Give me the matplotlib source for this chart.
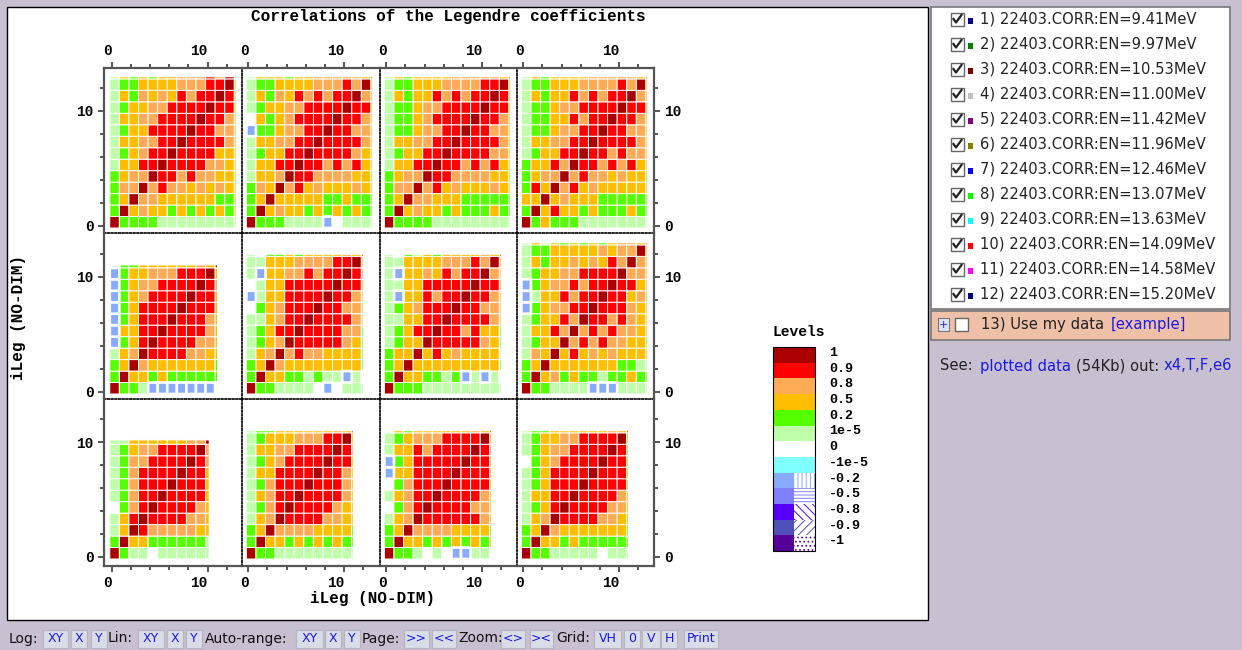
"""Correlations of the Legendre coefficients: 12 level maps plus the page chrome around them."""
import numpy as np
import matplotlib
matplotlib.use('Agg')
import matplotlib.pyplot as plt
from matplotlib.colors import ListedColormap, BoundaryNorm
from matplotlib.patches import Rectangle
from matplotlib.ticker import FixedLocator

W, H = 1242, 650
MONO = 'Liberation Mono'
SANS = 'DejaVu Sans'

# ---- data: level letter per cell, top row first, last row/column is the clipped sliver
P1 = ["LYGYGYYOOORODY", "LGGYYYYOOORRDY", "LYGOYOYRORRDRY", "LGYYOORRRRDRRY", "LYYOORRRRDRROY",
      "LGYYRRRRDRROOY", "LYYOORRDRRRROY", "LGYORRDRRRRYYY", "LYYRRDRRRROOYY", "GYOODRROROOYYG",
      "GOODOROOYOYOYY", "GYDOOYYYYYYGGY", "GDYOYYGYGYGYGY", "DGGGGLLLLLLLLL"]
P2 = ["LYYYGYYOOOOOYD", "LGGYYYYOOORODY", "LYGOYRORORRDOO", "LGYYOORRRRDRRY", "WYGYORRRRDRROY",
      "BGGYOORRDRROOY", "LYYOORRDRRRROY", "LGYYRRDRRRROYY", "LYYRRDRRORORYY", "LYYODRROOOOYYG",
      "GOYDORYOYYYOYY", "GYDYYYYYGGYGGG", "GDYOYYGYGYGYGG", "DGGGLLLLBWLLLL"]
P3 = ["LYGYYYYOOOOOYD", "LGGYYYOOOORRDY", "LYGYYRORORRDRO", "LGGYOORRRRDRRY", "LGGYORRRRDRROY",
      "LGGYOORRDRROOY", "LYYOORRDRRRROY", "LGYYRRDRRRROOY", "LYYRRDRRORORYY", "GYOODRROOOOYYG",
      "GOODORYOYYYOYY", "GYDOOYYYGGGGGG", "GDYOYYGYGGGYGG", "DGGGGLLLLLLLLL"]
P4 = ["LYGYYYYOOOOOYD", "LGGYYYOOOORODY", "LYGYYRORORRDOO", "LGGYOORRRRDRRY", "LGGYYRORRDRROY",
      "LGGYOORRDRROOY", "LYYOORRDRRRROY", "LGYYRRDRROROOY", "GYYRODRRORORYY", "GYOODOROOYOYYG",
      "GRYDORYOYYYYYY", "YYDYOYYYGGGGGG", "GDYRYYGYGGGYGG", "DGYGGGLLLLLLLL"]
P5 = ["BGGYYYYYYOYD", "BGYYOOORRRDY", "BGYOORRRRDRO", "BGYORRRRDRRY", "BGYRRRRDRRRY", "BGYRRRDRRROY",
      "BYYRRDRRRROY", "BGYRDRRRROOY", "LYODRRRROOYY", "GYDOYYYYYYYG", "GDYYGYGGGGGG", "DGGLBBBBBBBB"]
P6 = ["LBGGYGYYYYOYD", "LLYYYOOOORRDY", "LBYYOORORRDRO", "WLYYRRRRRDRRY", "BLYYRRRRDRROY",
      "WGYORRRDRROOY", "LLYORRDRRRROY", "LGYRRDRRRROOG", "LGYODRRRRROYG", "LYODOROOYYYYG",
      "GYDOYYYYYYYYG", "GDYYGGLGLLBLB", "DGGLLLLWBWLLL"]
P7 = ["LBGLYGYYYYOYD", "LLYYYYOOORODY", "LBYYOYRORRDOO", "LLYYRRRRRDRRY", "LBYYRORRDRROY",
      "LGYORRRDRROOY", "LLYYRRDRRRROY", "LGYRRDRRORYYG", "LGYYDRRRRROYG", "GYYDYRYOYYYYL",
      "GYDYYYYYYYYYG", "GDYYGGLGBLBLB", "DGGGLLLLLLLLL"]
P8 = ["LYLYGYGYGYOOYD", "LGGYYYYYOYOODY", "LYGYYOYOYRODOY", "LGYYOORRRRDOOY", "BGYOORORRDRRYY",
      "BLYYRORRDRRYOG", "BGYOORRDRRROYY", "LGYYRODRROROYY", "LYYRODOROROOYY", "LGYYDOROROOYYG",
      "LOYDYRYOYOYYYY", "GYDYYYYYYYGGLL", "GDYOGYGGLGGYGG", "DGGLLLLBBBLLLL"]
P9 = ["LLYYYYYYOOD", "LGYOORRRRDO", "LGOORRRRDRO", "LGORRRRDRRY", "LGORRRDRRRY", "LGORRDRRRRY",
      "WGORDRRRROY", "LYRDRRRROOY", "LYDROOOOOYY", "GDYYGGGGGGL", "DGLLWLLLLLL"]
P10 = ["LGGYYYYYYOYD", "LGYYYOOORRDY", "LYYOORRRRDRO", "LGYORRRRDRRY", "LYYRRRRDRROY", "LGORRRDRRROY",
       "LYORRDRRRROY", "LGORDRRRROYY", "LYODRRRROOYY", "GYDOOOOYYYYG", "GDYYGYGYGYGG", "DGGLLLLLLLLL"]
P11 = ["WYGYYYYYYOYD", "LGYOOORRRRDY", "LYYRORRRRDRO", "BGYRRRRRDRRY", "BYYRRRRDRRRY", "WGORRRDRRRRY",
       "LYORRDRRRROY", "WGORDRRRROOY", "LYODRRRRRROY", "GYDOOOOYYYYG", "GDYYGYGYGYGY", "DGGLWLWBBLLW"]
P12 = ["LGGYYYYYYOYD", "LGYYOORRRRDY", "LGYOORRRRDRO", "WGYORRRRDRRY", "LGYRRRRDRRRY", "LGYRRRDRRRRY",
       "LYYRRDRRRROY", "LGYRDRRRROOY", "LYODRRRROOYY", "GYDOYYYYYYYG", "GDYYGYGGGGGG", "DGGLLLLLWLLL"]
PANELS = [P1, P2, P3, P4, P5, P6, P7, P8, P9, P10, P11, P12]
SLIVER = [.18, .18, .18, .18, .25, .18, .18, .18, .38, .18, .18, .18]

LETTERS = "DROYGLWCBPVNK"
LEVELS = ['1', '0.9', '0.8', '0.5', '0.2', '1e-5', '0', '-1e-5', '-0.2', '-0.5', '-0.8', '-0.9', '-1']
LEVEL_COLORS = ['#AA0000', '#FF0000', '#FFAA55', '#FFBF00', '#55FF00', '#BFFFAA', '#FFFFFF',
                '#7FFFFF', '#88AAFF', '#8080FF', '#5500FF', '#5050BB', '#550099']
LEVEL_HATCH = ['', '', '', '', '', '', '', '', '||||', '-----', '\\\\\\\\', '////', '....']

DATASETS = ['9.41', '9.97', '10.53', '11.00', '11.42', '11.96', '12.46', '13.07', '13.63', '14.09', '14.58', '15.20']
DATASET_COLORS = ['#000080', '#008000', '#800000', '#C0C0C0', '#800080', '#808000',
                  '#0000FF', '#00FF00', '#00FFFF', '#FF0000', '#FF00FF', '#000080']

COL_EDGES = [104, 242, 380, 517, 654]
ROW_EDGES = [68, 233, 399, 566]
X0 = [111.7, 248.3, 386.3, 523.3]   # pixel of x = 0 per column
Y0 = [225.7, 391.7, 556.7]          # pixel of y = 0 per row
DX, DY = 9.58, 11.47

cmap = ListedColormap(LEVEL_COLORS)
norm = BoundaryNorm(np.arange(-.5, 13.5), 13)
FRAME = '#555555'
BLUE = '#1A1AE6'
DARK = '#222222'
FS = 10.6

fig = plt.figure(figsize=(W/100, H/100), dpi=100, facecolor='#C8BFD0')

# ---- page chrome, in pixel coordinates ---------------------------------------------
pg = fig.add_axes([0, 0, 1, 1], zorder=0)
pg.set_xlim(0, W); pg.set_ylim(H, 0); pg.axis('off')
pg.add_patch(Rectangle((6.5, 6.5), 921, 613, fc='white', ec='black', lw=1))


def checkbox(x, y, checked=True):
    pg.add_patch(Rectangle((x, y - 6.5), 13, 13, fc='white', ec='#666666', lw=1))
    if checked:
        pg.plot([x + 2.5, x + 5, x + 10.5], [y, y + 3.5, y - 4], color=DARK, lw=1.6)


pg.add_patch(Rectangle((930.5, 6.5), 299, 302, fc='white', ec='#777777', lw=1.2))
for i, (en, c) in enumerate(zip(DATASETS, DATASET_COLORS)):
    y = 19 + 25*i
    checkbox(951, y)
    pg.add_patch(Rectangle((968, y - 1), 5, 6, fc=c, ec='none'))
    pg.text(980, y, f'{i + 1}) 22403.CORR:EN={en}MeV', family=SANS, fontsize=FS,
            va='center', color=DARK)

pg.add_patch(Rectangle((930.5, 310.5), 299, 29, fc='#EFC0A8', ec='#777777', lw=1.2))
pg.add_patch(Rectangle((938, 318), 11, 13, fc='#DDE3F5', ec='#777777', lw=.8))
pg.text(943.5, 324.5, '+', family=SANS, fontsize=8, ha='center', va='center', color=BLUE)
checkbox(955, 324, checked=False)
pg.text(981, 324, '13) Use my data', family=SANS, fontsize=FS, va='center', color=DARK)
pg.text(1111, 324, '[example]', family=SANS, fontsize=FS, va='center', color=BLUE)

for x, s, c in [(940, 'See:', DARK), (980, 'plotted data', BLUE), (1076, '(54Kb) out:', DARK),
                (1164, 'x4,T,F,e6', BLUE)]:
    pg.text(x, 366, s, family=SANS, fontsize=FS, va='center', color=c)

# toolbar at the bottom
for x, s in [(9, 'Log:'), (108, 'Lin:'), (205, 'Auto-range:'), (362, 'Page:'), (458, 'Zoom:'), (556, 'Grid:')]:
    pg.text(x, 638.5, s, family=SANS, fontsize=10, va='center', color='#111111')
BUTTONS = [(43, 68, 'XY'), (71, 87, 'X'), (91, 107, 'Y'), (138, 164, 'XY'), (167, 183, 'X'), (186, 202, 'Y'),
           (296, 323, 'XY'), (325, 341, 'X'), (344, 360, 'Y'), (404, 429, '>>'), (432, 456, '<<'),
           (501, 525, '<>'), (530, 553, '><'), (594, 621, 'VH'), (624, 640, '0'), (642, 660, 'V'),
           (661, 677, 'H'), (684, 718, 'Print')]
for x0, x1, s in BUTTONS:
    pg.add_patch(Rectangle((x0, 629.5), x1 - x0, 18, fc='#D9DDE8', ec='#B5B5C0', lw=.8))
    pg.text((x0 + x1)/2, 638.5, s, family=SANS, fontsize=9, ha='center', va='center', color=BLUE)

# chart texts
pg.text(448, 17, 'Correlations of the Legendre coefficients', family=MONO, weight='bold',
        fontsize=11.5, ha='center', va='center', color='black')
pg.text(373, 598, 'iLeg (NO-DIM)', family=MONO, weight='bold', fontsize=11.5, ha='center',
        va='center', color='black')
pg.text(19, 317, 'iLeg (NO-DIM)', family=MONO, weight='bold', fontsize=11.5, ha='center',
        va='center', rotation=90, color='black')

# levels key
pg.text(773, 332, 'Levels', family=MONO, weight='bold', fontsize=10.5, va='center', color='black')
plt.rcParams['hatch.linewidth'] = .7
for i, (lab, c, h) in enumerate(zip(LEVELS, LEVEL_COLORS, LEVEL_HATCH)):
    y = 347 + 15.7*i
    pg.add_patch(Rectangle((773, y), 21, 15.7, fc=c, ec='none'))
    if h:
        pg.add_patch(Rectangle((794, y), 21, 15.7, fc='white', ec=c, lw=0, hatch=h))
    else:
        pg.add_patch(Rectangle((794, y), 21, 15.7, fc=c, ec='none'))
    pg.text(829, y + 6, lab, family=MONO, weight='bold', fontsize=9.6, va='center', color='black')
pg.add_patch(Rectangle((773, 347), 42, 15.7*13, fc='none', ec='black', lw=.8))

# ---- the 12 maps -------------------------------------------------------------------
for k, rows in enumerate(PANELS):
    r, c = k // 4, k % 4
    l, rt, t, b = COL_EDGES[c], COL_EDGES[c + 1], ROW_EDGES[r], ROW_EDGES[r + 1]
    ax = fig.add_axes([l/W, 1 - b/H, (rt - l)/W, (b - t)/H], zorder=2)
    ax.patch.set_alpha(0)
    ax.set_xlim((l - X0[c])/DX, (rt - X0[c])/DX)
    ax.set_ylim((Y0[r] - b)/DY, (Y0[r] - t)/DY)

    z = np.array([[LETTERS.index(ch) for ch in row] for row in rows[::-1]], dtype=float)
    n = z.shape[0]
    edges = np.append(np.arange(n) - .2, n - 1.2 + SLIVER[k])
    blue = z == LETTERS.index('B')
    # pcolor drops masked cells, so the thick white rim stays on the negative cells
    ax.pcolor(edges, edges, np.ma.masked_where(blue, z), cmap=cmap, norm=norm,
              edgecolors='white', linewidth=.7)
    if blue.any():
        ax.pcolor(edges, edges, np.ma.masked_where(~blue, z), cmap=cmap, norm=norm,
                  edgecolors='white', linewidth=1.9)

    ax.xaxis.set_major_locator(FixedLocator([0, 10]))
    ax.yaxis.set_major_locator(FixedLocator([0, 10]))
    ax.xaxis.set_minor_locator(FixedLocator([2, 4, 6, 8, 12]))
    ax.yaxis.set_minor_locator(FixedLocator([2, 4, 6, 8, 12]))
    ax.tick_params(which='both', direction='out', color=FRAME, width=1.4, labelsize=10.4,
                   top=r == 0, bottom=r == 2, left=c == 0, right=c == 3,
                   labeltop=r == 0, labelbottom=r == 2, labelleft=c == 0, labelright=c == 3)
    ax.tick_params(which='major', length=4.5, pad=3)
    ax.tick_params(which='minor', length=3)
    for lab in ax.get_xticklabels():
        lab.set_family(MONO); lab.set_weight('bold'); lab.set_ha('right')
    for lab in ax.get_yticklabels():
        lab.set_family(MONO); lab.set_weight('bold')

    outer = {'top': r == 0, 'bottom': r == 2, 'left': c == 0, 'right': c == 3}
    for side, sp in ax.spines.items():
        if outer[side]:
            sp.set_color(FRAME); sp.set_linewidth(1.6)
        elif side in ('right', 'bottom'):
            sp.set_color('black'); sp.set_linewidth(1.2); sp.set_linestyle((0, (1, 1.2)))
        else:
            sp.set_visible(False)

fig.savefig('out.png', dpi=100, facecolor=fig.get_facecolor())
